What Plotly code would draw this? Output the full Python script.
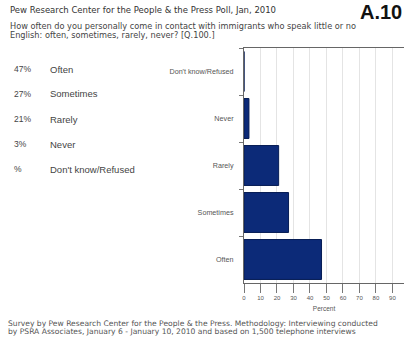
import plotly.graph_objects as go

# ---- data ----
categories = ["Don't know/Refused", "Never", "Rarely", "Sometimes", "Often"]
values = [0, 3, 21, 27, 47]
list_order = ["Often", "Sometimes", "Rarely", "Never", "Don't know/Refused"]
list_pct = ["47%", "27%", "21%", "3%", "%"]
x_ticks = [0, 10, 20, 30, 40, 50, 60, 70, 80, 90]

title_line = "Pew Research Center for the People & the Press Poll, Jan, 2010"
question_lines = ["How often do you personally come in contact with immigrants who speak little or no",
                  "English: often, sometimes, rarely, never? [Q.100.]"]
source_lines = ["Survey by Pew Research Center for the People & the Press. Methodology: Interviewing conducted",
                "by PSRA Associates, January 6 - January 10, 2010 and based on 1,500 telephone interviews"]
tag = "A.10"

W, H = 404, 343
L, R, T, B = 244, 0, 48, 60
pw, ph = W - L - R, H - T - B


def px(x):
    return (x - L) / pw


def py(y):
    return (H - B - y) / ph


fig = go.Figure()
fig.add_trace(go.Bar(
    y=categories, x=values, orientation="h",
    marker=dict(color="#0c2a78", line=dict(color="#071d55", width=1)),
    width=0.85, hoverinfo="skip",
))

ann = []
ann.append(dict(text=title_line, x=px(8), y=py(10), xanchor="left", yanchor="middle",
                font=dict(size=8.5, color="#333", family="DejaVu Sans")))
for i, line in enumerate(question_lines):
    ann.append(dict(text=line, x=px(8), y=py(26 + 9 * i), xanchor="left", yanchor="middle",
                    font=dict(size=8.2, color="#444", family="DejaVu Sans")))
ann.append(dict(text="<b>" + tag + "</b>", x=px(358), y=py(12), xanchor="left", yanchor="middle",
                font=dict(size=20, color="#111", family="Liberation Sans")))
for i, (lab, p) in enumerate(zip(list_order, list_pct)):
    yy = 69 + 25 * i
    ann.append(dict(text=p, x=px(12), y=py(yy), xanchor="left", yanchor="middle",
                    font=dict(size=8.5, color="#444", family="Liberation Sans")))
    ann.append(dict(text=lab, x=px(48), y=py(yy), xanchor="left", yanchor="middle",
                    font=dict(size=9.5, color="#444", family="Liberation Sans")))
for i, line in enumerate(source_lines):
    ann.append(dict(text=line, x=px(6), y=py(323 + 8.5 * i), xanchor="left", yanchor="middle",
                    font=dict(size=7.6, color="#555", family="DejaVu Sans")))
for a in ann:
    a.update(xref="paper", yref="paper", showarrow=False)

fig.update_layout(
    width=W, height=H,
    margin=dict(l=L, r=R, t=T, b=B, pad=0),
    paper_bgcolor="white", plot_bgcolor="white",
    showlegend=False,
    annotations=ann,
    xaxis=dict(range=[0, 97], tickvals=x_ticks, ticktext=[str(v) for v in x_ticks],
               showgrid=True, gridcolor="#e4e4e4", gridwidth=1,
               showline=True, linecolor="#666", linewidth=1, mirror=True,
               ticks="outside", ticklen=9, tickcolor="#777",
               tickfont=dict(size=6, color="#555", family="Liberation Sans"),
               title=dict(text="Percent", font=dict(size=6.5, color="#555", family="Liberation Sans"), standoff=6),
               zeroline=False, fixedrange=True),
    yaxis=dict(categoryorder="array", categoryarray=categories,
               autorange="reversed",
               showline=True, linecolor="#666", linewidth=1,
               ticks="outside", tickson="boundaries", ticklen=4, tickcolor="#777",
               tickfont=dict(size=7.2, color="#555", family="Liberation Sans"),
               ticklabelstandoff=8, fixedrange=True),
)

fig.write_html("out.html")
